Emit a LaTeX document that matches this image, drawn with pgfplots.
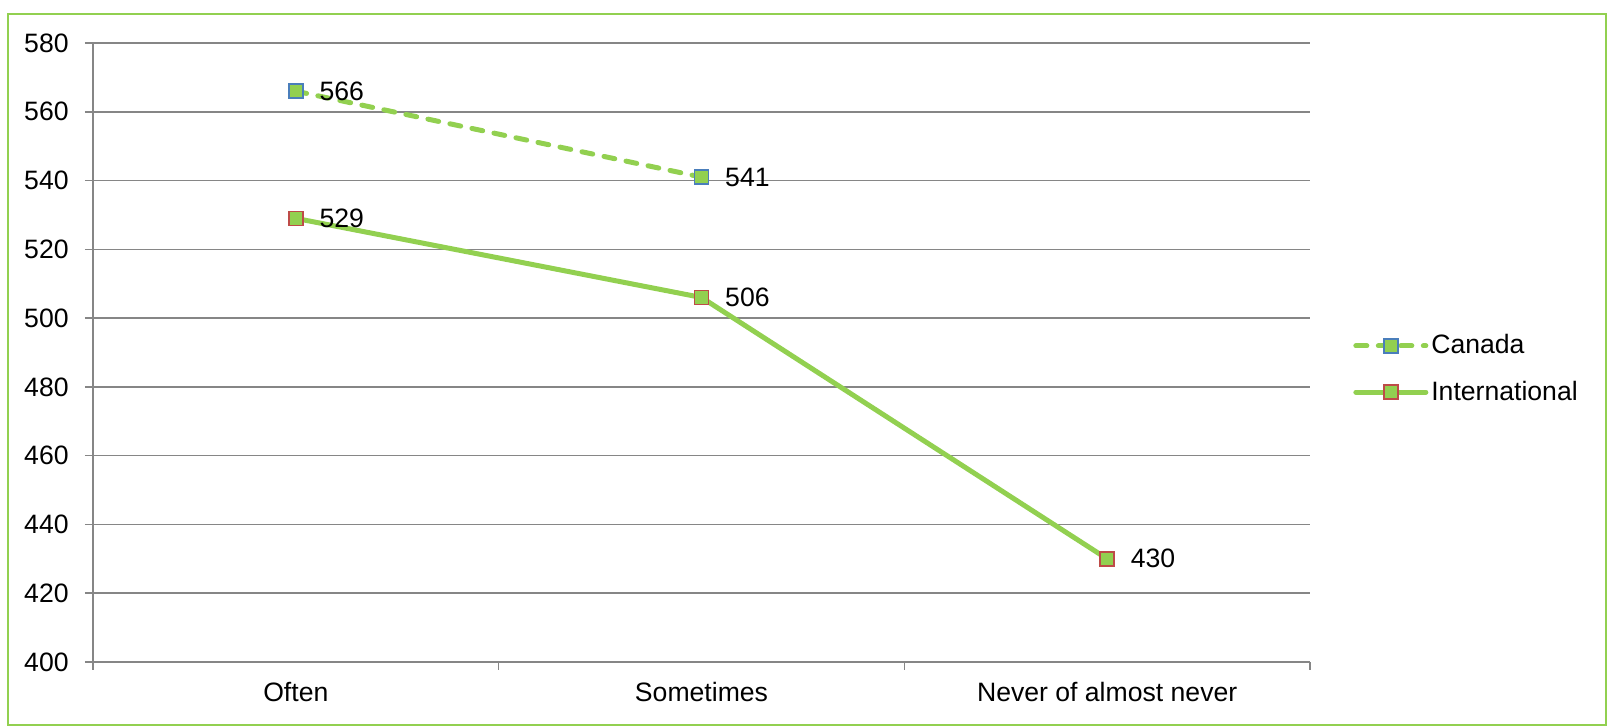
\documentclass[border=0pt]{standalone}
\usepackage{fontspec}
\setmainfont{Liberation Sans}
\usepackage{pgfplots}
\pgfplotsset{compat=1.18}
\definecolor{lgreen}{RGB}{146,208,80}
\definecolor{mblue}{RGB}{74,126,187}
\definecolor{mred}{RGB}{190,75,72}
\definecolor{gridg}{RGB}{134,134,134}
\newcommand\lbl{\fontsize{13.3}{16}\selectfont}
\begin{document}
\begin{tikzpicture}[x=0.5pt,y=0.5pt]
\path[use as bounding box] (-93,-66) rectangle (1521,662);
\draw[lgreen, line width=1pt] (-85,-63) rectangle (1513,648);
\begin{axis}[
  at={(0pt,0pt)}, anchor=south west,
  scale only axis, width=608.5pt, height=309.5pt,
  xmin=-0.5, xmax=2.5, ymin=400, ymax=580,
  axis x line*=bottom, axis y line*=left,
  axis line style={-, gridg, line width=0.75pt},
  ytick={400,420,...,580},
  ymajorgrids, grid style={gridg, line width=0.75pt},
  tick align=outside, major tick length=4pt,
  tick style={gridg, line width=0.75pt},
  xtick={-0.5,0.5,1.5,2.5}, xticklabels={,,,},
  extra x ticks={0,1,2},
  extra x tick labels={Often,Sometimes,Never of almost never},
  extra x tick style={major tick length=0pt, grid=none},
  /pgf/number format/assume math mode=true,
  yticklabel style={font=\lbl, inner sep=0pt, anchor=east, xshift=-8pt},
  xticklabel style={font=\lbl, inner sep=0pt, anchor=north, yshift=-9.75pt},
  clip=false,
  legend style={at={(1.0353,0.4735)}, anchor=west, draw=none, fill=none,
    inner sep=0pt, row sep=12pt, font=\lbl, nodes={inner ysep=0pt, inner xsep=1.5pt}},
  legend cell align=left,
  legend image code/.code={\draw[#1, mark repeat=2, mark phase=2] plot coordinates {(0pt,0pt) (17.5pt,0pt) (35pt,0pt)};},
  nodes near coords,
  nodes near coords style={font=\lbl, text=black, anchor=west, xshift=11.5pt, inner sep=0pt},
]
\addplot[lgreen, line width=2.5pt, dash pattern=on 5.5pt off 5.75pt, line cap=round,
  mark=square*, mark size=3.5pt, mark options={solid, fill=lgreen, draw=mblue, line width=0.75pt}]
  coordinates {(0,566) (1,541)};
\addlegendentry{Canada}
\addplot[lgreen, line width=2.5pt, line cap=round,
  mark=square*, mark size=3.5pt, mark options={solid, fill=lgreen, draw=mred, line width=0.75pt}]
  coordinates {(0,529) (1,506) (2,430)};
\addlegendentry{International}
\end{axis}
\end{tikzpicture}
\end{document}
